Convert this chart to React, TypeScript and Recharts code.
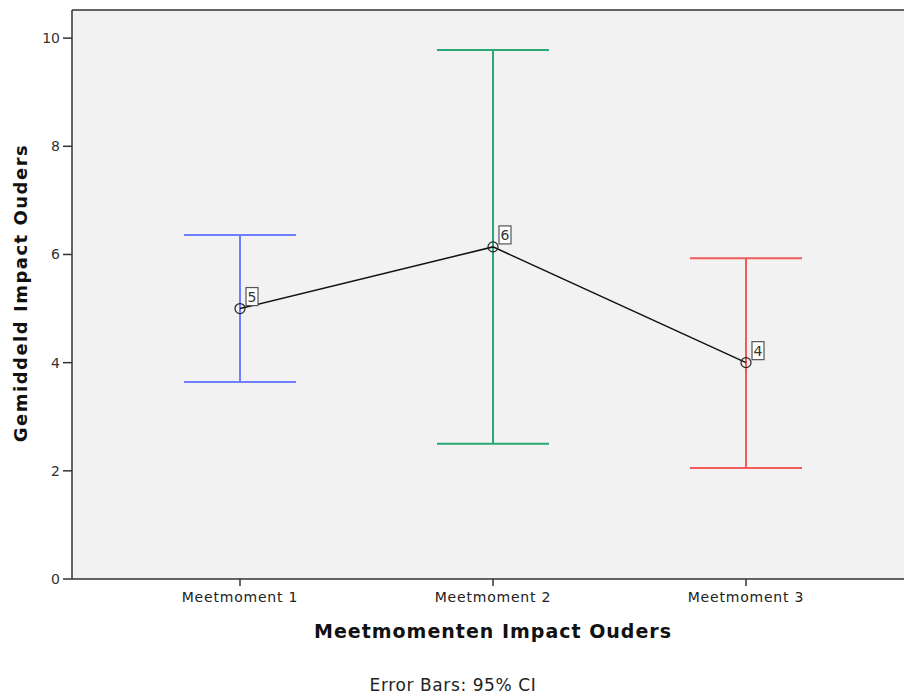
import { ComposedChart, Line, XAxis, YAxis, CartesianGrid, ErrorBar, LabelList, ReferenceLine, Label } from "recharts"

const categories = ["Meetmoment 1", "Meetmoment 2", "Meetmoment 3"]
const means = [5.0, 6.14, 4.0]
const lower = [3.64, 2.5, 2.05]
const upper = [6.36, 9.78, 5.93]
const pointLabels = ["5", "6", "4"]
const barColors = ["#6f7dff", "#2aa876", "#f25a5a"]
const yTicks = [0, 2, 4, 6, 8, 10]
const yMax = 10.52

const data = categories.map((name, i) => {
  const row: any = { name, mean: means[i], label: pointLabels[i] }
  row["s" + i] = means[i]
  row["err" + i] = [means[i] - lower[i], upper[i] - means[i]]
  return row
})

const font = "'DejaVu Sans', 'Open Sans', sans-serif"

function BoxLabel(props: any) {
  const { x, y, value } = props
  return (
    <g>
      <rect x={x + 6} y={y - 21} width={12} height={18} fill="#fff" stroke="#555" strokeWidth={1.2} />
      <text x={x + 12} y={y - 7} textAnchor="middle" fontSize={14} fill="#333" fontFamily={font}>
        {value}
      </text>
    </g>
  )
}

function XTitle(props: any) {
  const { viewBox } = props
  return (
    <g>
      <text x={493} y={viewBox.y + 59} textAnchor="middle" fontSize={19} letterSpacing={1} fontWeight="bold" fill="#111" fontFamily={font}>
        Meetmomenten Impact Ouders
      </text>
      <text x={453} y={viewBox.y + 112} textAnchor="middle" fontSize={17} letterSpacing={0.6} fill="#222" fontFamily={font}>
        Error Bars: 95% CI
      </text>
    </g>
  )
}

function YTitle(props: any) {
  const { viewBox } = props
  const x = 27
  const y = 293
  return (
    <text x={x} y={y} transform={`rotate(-90 ${x} ${y})`} textAnchor="middle" fontSize={18} letterSpacing={1.5} fontWeight="bold" fill="#111" fontFamily={font}>
      Gemiddeld Impact Ouders
    </text>
  )
}

export default function App() {
  return (
    <div style={{ position: "fixed", left: 0, top: 0, width: 904, height: 697, overflow: "hidden", background: "#fff" }}>
      <ComposedChart width={920} height={697} data={data} margin={{ top: 10, right: 6, left: 0, bottom: 0 }}>
        <CartesianGrid fill="#f2f2f2" horizontal={false} vertical={false} />
        <XAxis
          dataKey="name"
          type="category"
          scale="point"
          padding={{ left: 168, right: 168 }}
          height={118}
          stroke="#333"
          strokeWidth={1.5}
          tickSize={7}
          tickMargin={6}
          tick={{ fill: "#222", fontSize: 14, letterSpacing: 0.8, fontFamily: font }}
          interval={0}
        >
          <Label content={<XTitle />} />
        </XAxis>
        <YAxis
          domain={[0, yMax]}
          ticks={yTicks}
          width={72}
          stroke="#333"
          strokeWidth={1.5}
          tickSize={9}
          tickMargin={3}
          tick={{ fill: "#333", fontSize: 14, fontFamily: font }}
          allowDataOverflow
        >
          <Label content={<YTitle />} />
        </YAxis>
        <ReferenceLine y={yMax} stroke="#333" strokeWidth={1.5} />
        {categories.map((c, i) => (
          <Line
            key={c}
            dataKey={"s" + i}
            stroke="none"
            dot={false}
            activeDot={false}
            legendType="none"
            isAnimationActive={false}
          >
            <ErrorBar
              dataKey={(d: any) => (d["s" + i] == null ? null : d["err" + i])}
              width={56}
              stroke={barColors[i]}
              strokeWidth={2}
              direction="y"
            />
          </Line>
        ))}
        <Line
          dataKey="mean"
          stroke="#111"
          strokeWidth={1.5}
          dot={{ r: 5, fill: "none", stroke: "#222", strokeWidth: 1.2 }}
          activeDot={false}
          isAnimationActive={false}
        >
          <LabelList dataKey="label" content={<BoxLabel />} />
        </Line>
      </ComposedChart>
    </div>
  )
}
